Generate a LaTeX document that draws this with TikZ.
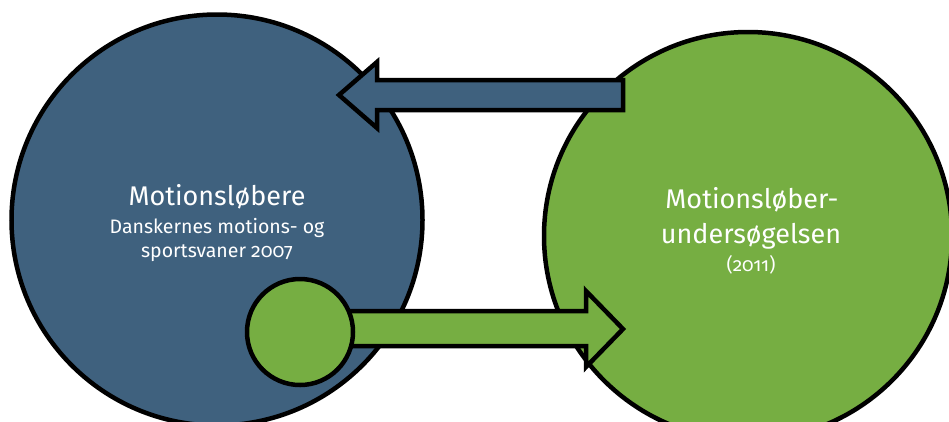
\documentclass[tikz,border=0pt]{standalone}
\usepackage{fontspec}
\setmainfont[Numbers=OldStyle]{Fira Sans}
\definecolor{dblue}{HTML}{3F617E}
\definecolor{dgreen}{HTML}{76AE42}
\begin{document}
\begin{tikzpicture}[x=1pt,y=-1pt,
  outl/.style={draw=black,line width=4.5pt,line join=miter},
  bigc/.style={outl,circle,inner sep=0pt},
  ttl/.style={text=white,anchor=base,inner sep=0pt}]
\useasboundingbox (0,0) rectangle (949,421);
\clip (0,0) rectangle (949,421);
\node[bigc,fill=dblue,minimum size=411pt] (blue) at (217,220) {};
\node[bigc,fill=dgreen,minimum size=408pt] (green) at (748,236) {};
% blue arrow (from green to blue)
\draw[outl,fill=dblue] (623,80) -- (377,80) -- (377,62) -- (339,95) -- (377,128) -- (377,110) -- (623,110) -- cycle;
% green arrow (from small circle to green)
\draw[outl,fill=dgreen] (320,311) -- (586,311) -- (586,291) -- (623,329) -- (586,367) -- (586,346) -- (320,346) -- cycle;
\node[bigc,fill=dgreen,minimum size=106pt] (small) at (300,332) {};
\node[ttl,font=\fontsize{27}{32}\selectfont] (t1) at (217,205) {Motionsløbere};
\node[ttl,font=\fontsize{19.5}{23}\selectfont] (t2) at (217,233) {Danskernes motions- og};
\node[ttl,font=\fontsize{19.5}{23}\selectfont] (t3) at (217,257) {sportsvaner 2007};
\node[ttl,font=\fontsize{27}{32}\selectfont] (g1) at (752,208) {Motionsløber-};
\node[ttl,font=\fontsize{27}{32}\selectfont] (g2) at (751,243) {undersøgelsen};
\node[ttl,font=\fontsize{19}{23}\selectfont] (g3) at (751,271) {(2011)};
\end{tikzpicture}
\end{document}
